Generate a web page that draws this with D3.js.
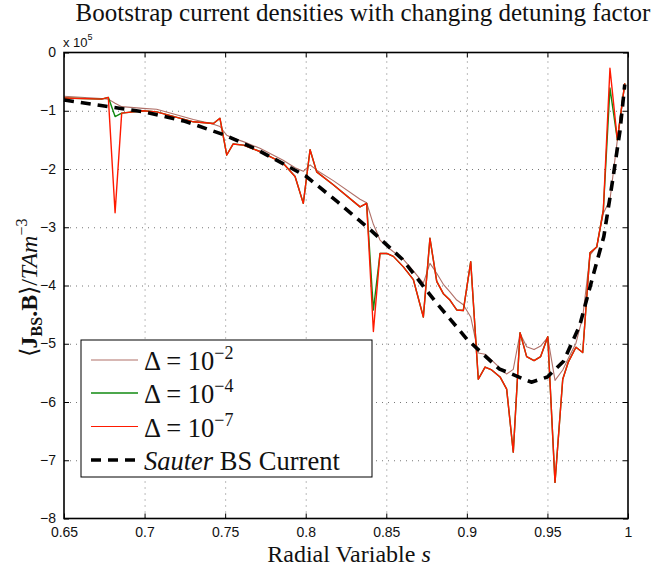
<!DOCTYPE html>
<html><head><meta charset="utf-8">
<script src="https://cdn.jsdelivr.net/npm/d3@7"></script>
<style>
body{margin:0;background:#fff;}
svg{display:block;}
</style></head>
<body>
<svg id="chart" width="668" height="567"></svg>
<script>
// ---- data (values in units of 1e5 T A m^-3) ----
const sGrid = [0.65,0.6733,0.6775,0.6817,0.6858,0.699,0.7075,0.7303,0.7427,0.7468,0.751,0.755,0.7613,0.7716,0.786,0.7934,0.7985,0.8027,0.8068,0.8171,0.8337,0.8378,0.842,0.8461,0.8503,0.8544,0.8606,0.8668,0.873,0.8771,0.8813,0.8854,0.8895,0.8937,0.8978,0.9024,0.9071,0.9113,0.9154,0.9206,0.9247,0.9288,0.933,0.9371,0.9417,0.9458,0.9502,0.9547,0.9595,0.963,0.9677,0.9719,0.9764,0.9806,0.9847,0.9888,0.9934,0.998];
const delta1e2 = [-0.75,-0.79,-0.80,-0.87,-0.93,-0.96,-0.975,-1.15,-1.23,-1.27,-1.42,-1.47,-1.53,-1.645,-1.85,-1.98,-2.04,-1.93,-2.02,-2.20,-2.52,-2.58,-2.95,-3.22,-3.33,-3.42,-3.55,-3.75,-3.96,-3.62,-3.79,-3.98,-4.11,-4.25,-4.33,-4.54,-5.16,-5.18,-5.28,-5.42,-5.52,-5.44,-4.82,-5.05,-5.10,-5.04,-4.89,-5.63,-5.45,-5.25,-4.99,-4.54,-3.48,-3.33,-2.76,-2.53,-1.50,-0.53];
const delta1e4 = [-0.78,-0.80,-0.77,-1.10,-1.04,-1.00,-1.02,-1.19,-1.22,-1.13,-1.76,-1.57,-1.59,-1.70,-1.90,-2.13,-2.59,-1.67,-2.05,-2.27,-2.65,-2.59,-4.42,-3.45,-3.45,-3.50,-3.68,-3.90,-4.54,-3.19,-3.93,-4.14,-4.25,-4.42,-4.43,-3.59,-5.61,-5.40,-5.45,-5.57,-5.78,-6.86,-4.81,-5.22,-5.29,-5.22,-4.88,-7.38,-5.61,-5.31,-5.06,-5.15,-3.44,-3.34,-2.70,-0.61,-1.50,-0.53];
const delta1e7 = [-0.78,-0.80,-0.77,-2.75,-1.04,-1.00,-1.02,-1.19,-1.22,-1.13,-1.76,-1.57,-1.59,-1.70,-1.90,-2.13,-2.59,-1.67,-2.05,-2.27,-2.65,-2.59,-4.79,-3.45,-3.45,-3.50,-3.68,-3.90,-4.54,-3.19,-3.93,-4.14,-4.25,-4.42,-4.43,-3.59,-5.61,-5.40,-5.45,-5.57,-5.78,-6.86,-4.81,-5.22,-5.29,-5.22,-4.88,-7.38,-5.61,-5.31,-5.06,-5.15,-3.44,-3.34,-2.70,-0.27,-1.50,-0.53];
const sauterS = [0.65,0.675,0.7,0.725,0.75,0.77,0.8,0.82,0.84,0.86,0.88,0.9,0.92,0.94,0.95,0.96,0.97,0.98,0.985,0.99,0.995,0.998];
const sauterJ = [-0.815,-0.92,-1.02,-1.18,-1.42,-1.67,-2.12,-2.57,-3.04,-3.55,-4.26,-4.92,-5.43,-5.66,-5.57,-5.30,-4.69,-3.66,-3.16,-2.28,-1.35,-0.55];
const xTicks = [0.65,0.7,0.75,0.8,0.85,0.9,0.95,1];
const xTickLabels = ["0.65","0.7","0.75","0.8","0.85","0.9","0.95","1"];
const yTicks = [0,-1,-2,-3,-4,-5,-6,-7,-8];
const yTickLabels = ["0","\u22121","\u22122","\u22123","\u22124","\u22125","\u22126","\u22127","\u22128"];
const legendLabels = ["\u0394 = 10","\u0394 = 10","\u0394 = 10","Sauter BS Current"];
const legendExps = ["\u22122","\u22124","\u22127",""];

// ---- layout ----
const L = 64, R = 628, T = 52.5, B = 518.5;
const svg = d3.select("#chart");
const x = d3.scaleLinear().domain([0.65,1]).range([L,R]);
const y = d3.scaleLinear().domain([-8,0]).range([B,T]);
const serif = "'Liberation Serif', 'Times New Roman', serif";
const sans = "'Liberation Sans', Arial, Helvetica, sans-serif";

// grid
const gridStyle = g => g.selectAll("line").attr("stroke","#777").attr("stroke-width",1).attr("stroke-dasharray","1,5");
svg.append("g").attr("transform",`translate(0,${B})`)
  .call(d3.axisBottom(x).tickValues(xTicks.slice(1,-1)).tickSize(-(B-T)).tickFormat(""))
  .call(g=>g.select(".domain").remove()).call(gridStyle);
svg.append("g").attr("transform",`translate(${L},0)`)
  .call(d3.axisLeft(y).tickValues(yTicks.slice(1,-1)).tickSize(-(R-L)).tickFormat(""))
  .call(g=>g.select(".domain").remove()).call(gridStyle);

// series
const line = d3.line().x(d=>x(d[0])).y(d=>y(d[1]));
const plotSeries = (xs, ys, color, w, dash) => svg.append("path")
  .datum(xs.map((s,i)=>[s, ys[i]]))
  .attr("fill","none").attr("stroke",color).attr("stroke-width",w)
  .attr("stroke-linejoin","round")
  .attr("stroke-dasharray",dash||null).attr("d",line);
plotSeries(sGrid, delta1e2, "#b07068", 1.1);
plotSeries(sGrid, delta1e4, "#118a11", 1.4);
plotSeries(sGrid, delta1e7, "#ff1a00", 1.4);
plotSeries(sauterS, sauterJ, "#000", 3.6, "10,7");

// axes with inward ticks on all sides
const axStyle = g => { g.select(".domain").remove(); g.selectAll("line").attr("stroke","#000").attr("stroke-width",1); };
svg.append("g").attr("transform",`translate(0,${B})`)
  .call(d3.axisBottom(x).tickValues(xTicks).tickSize(-5).tickPadding(14).tickFormat((d,i)=>xTickLabels[i]))
  .call(axStyle)
  .call(g=>g.selectAll("text").attr("font-family",sans).attr("font-size",14).attr("fill","#111").attr("dy","0.3em"));
svg.append("g").attr("transform",`translate(0,${T})`)
  .call(d3.axisTop(x).tickValues(xTicks).tickSize(-5).tickFormat("")).call(axStyle);
svg.append("g").attr("transform",`translate(${L},0)`)
  .call(d3.axisLeft(y).tickValues(yTicks).tickSize(-5).tickPadding(8).tickFormat((d,i)=>yTickLabels[i]))
  .call(axStyle)
  .call(g=>g.selectAll("text").attr("font-family",sans).attr("font-size",14).attr("fill","#111").attr("dy","0.3em"));
svg.append("g").attr("transform",`translate(${R},0)`)
  .call(d3.axisRight(y).tickValues(yTicks).tickSize(-5).tickFormat("")).call(axStyle);
svg.append("rect").attr("x",L).attr("y",T).attr("width",R-L).attr("height",B-T)
  .attr("fill","none").attr("stroke","#000").attr("stroke-width",1.6);

// exponent label
const ex = svg.append("text").attr("x",L-1).attr("y",T-6).attr("font-family",sans).attr("font-size",13).attr("fill","#111");
ex.append("tspan").text("x 10");
ex.append("tspan").attr("dy",-7).attr("font-size",9).text("5");

// title
svg.append("text").attr("x",363).attr("y",21).attr("text-anchor","middle")
  .attr("font-family",serif).attr("font-size",25).attr("fill","#111")
  .text("Bootstrap current densities with changing detuning factor");

// x label
const xl = svg.append("text").attr("x",349).attr("y",562).attr("text-anchor","middle")
  .attr("font-family",serif).attr("font-size",24).attr("fill","#111");
xl.append("tspan").text("Radial Variable ");
xl.append("tspan").attr("font-style","italic").text("s");

// y label
const yl = svg.append("text").attr("transform","translate(37,288) rotate(-90)").attr("text-anchor","middle")
  .attr("font-family",serif).attr("font-size",24).attr("fill","#111");
yl.append("tspan").text("\u27E8");
yl.append("tspan").attr("font-weight","bold").text("J");
yl.append("tspan").attr("font-weight","bold").attr("font-size",16).attr("dy",5).text("BS");
yl.append("tspan").attr("font-weight","bold").attr("dy",-5).text(".B");
yl.append("tspan").text("\u27E9/");
yl.append("tspan").attr("font-style","italic").text("TAm");
yl.append("tspan").attr("font-size",16).attr("dy",-10).text("\u22123");

// legend
const lg = svg.append("g");
lg.append("rect").attr("x",81).attr("y",340).attr("width",291).attr("height",137)
  .attr("fill","#fff").attr("stroke","#000").attr("stroke-width",1);
const legColors = ["#b07068","#118a11","#ff1a00","#000"];
const legWidths = [1.1,1.6,1.2,3.6];
const legY = [360,393,426.5,460];
legendLabels.forEach((lab,i)=>{
  lg.append("line").attr("x1",91).attr("x2",138).attr("y1",legY[i]).attr("y2",legY[i])
    .attr("stroke",legColors[i]).attr("stroke-width",legWidths[i])
    .attr("stroke-dasharray", i===3 ? "10,7" : null);
  const t = lg.append("text").attr("x",144).attr("y",legY[i]+10)
    .attr("font-family",serif).attr("font-size",26.5).attr("fill","#111");
  if (i===3) {
    t.append("tspan").attr("font-style","italic").text("Sauter");
    t.append("tspan").text(" BS Current");
  } else {
    t.append("tspan").text(lab);
    t.append("tspan").attr("dy",-11).attr("font-size",18).text(legendExps[i]);
  }
});
</script>
</body></html>
